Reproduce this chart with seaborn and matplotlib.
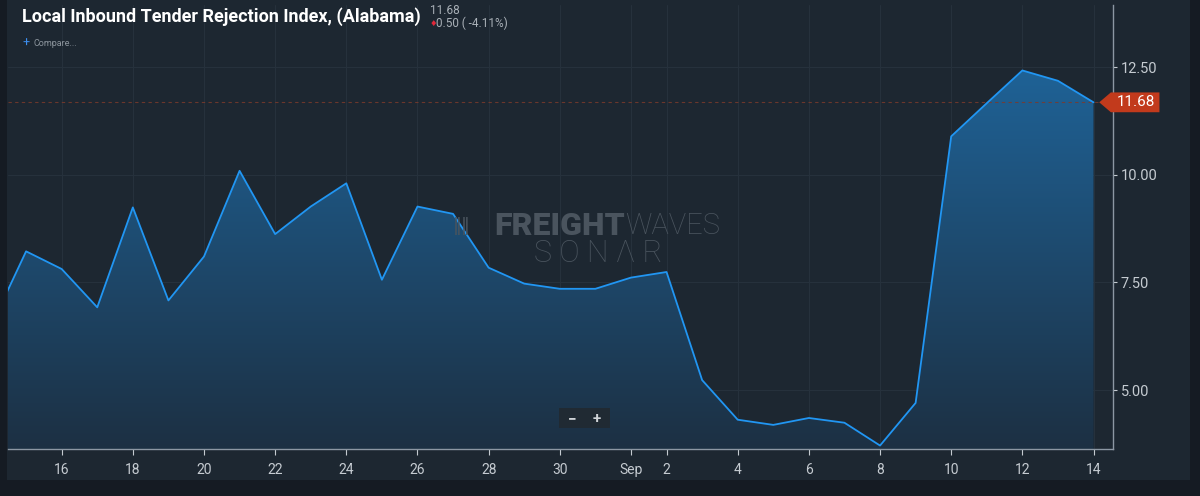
import numpy as np
import pandas as pd
import matplotlib
matplotlib.use("Agg")
import matplotlib.pyplot as plt
import matplotlib.dates as mdates
from matplotlib.colors import LinearSegmentedColormap
from matplotlib.patches import Polygon, Rectangle
import seaborn as sns

# data
dates = pd.date_range("2019-08-14", "2019-09-14", freq="D")
values = [6.46, 8.22, 7.81, 6.92, 9.24, 7.08, 8.10, 10.09, 8.62, 9.26,
          9.80, 7.56, 9.26, 9.09, 7.84, 7.47, 7.35, 7.35, 7.61, 7.74,
          5.23, 4.31, 4.19, 4.35, 4.24, 3.71, 4.70, 10.89, 11.66, 12.42,
          12.18, 11.68]
last_value = 11.68
change_txt = "0.50 ( -4.11%)"
title = "Local Inbound Tender Rejection Index, (Alabama)"
tick_dates = (list(pd.date_range("2019-08-16", "2019-08-30", freq="2D"))
              + [pd.Timestamp("2019-09-01")]
              + list(pd.date_range("2019-09-02", "2019-09-14", freq="2D")))
tick_labels = [("Sep" if d.day == 1 else str(d.day)) for d in tick_dates]
ytick_vals = [5.0, 7.5, 10.0, 12.5]

df = pd.DataFrame({"date": dates, "value": values})

BG_OUT = "#151b23"
BG = "#1d2731"
GRID = "#26313c"
TXT = "#c5cbd1"
LINE = "#2196f3"
WM = "#4a545e"

sns.set_theme(style="dark")
plt.rcParams["font.family"] = ["Roboto", "DejaVu Sans"]

fig = plt.figure(figsize=(12, 4.96), dpi=100, facecolor=BG_OUT)
W, H = 1200, 496
# panel
fig.patches.append(Rectangle((7 / W, 1 - 480 / H), (1190 - 7) / W, 480 / H,
                             transform=fig.transFigure, facecolor=BG,
                             edgecolor="none", zorder=-10))
ax = fig.add_axes([8 / W, 1 - 449 / H, (1112.5 - 8) / W, 444 / H])
ax.set_facecolor(BG)
ax.patch.set_alpha(0)

x0 = pd.Timestamp("2019-08-14") + pd.Timedelta(hours=11.8)
x1 = pd.Timestamp("2019-09-14") + pd.Timedelta(hours=12.8)
ylo, yhi = 3.63, 13.94

# gradient fill under the line
xn = mdates.date2num(df["date"])
fill = ax.fill_between(xn, df["value"], ylo, color="none", lw=0)
cmap = LinearSegmentedColormap.from_list("g", ["#1c3043", "#1f6296"])
grad = np.linspace(0, 1, 256).reshape(-1, 1)
img = ax.imshow(grad, cmap=cmap, aspect="auto", origin="lower",
                extent=[xn[0], xn[-1], ylo, max(values)], zorder=1)
img.set_clip_path(fill.get_paths()[0], transform=ax.transData)

sns.lineplot(data=df, x="date", y="value", ax=ax, color=LINE, lw=1.3,
             zorder=3)

ax.set_xlim(x0, x1)
ax.set_ylim(ylo, yhi)
ax.set_xticks(tick_dates)
ax.set_xticklabels(tick_labels)
ax.yaxis.tick_right()
ax.set_yticks(ytick_vals)
ax.set_yticklabels([f"{v:.2f}" for v in ytick_vals])
ax.set_xlabel("")
ax.set_ylabel("")
ax.tick_params(axis="x", colors=TXT, labelsize=10, length=4, width=0.8,
               pad=6, direction="out", bottom=True)
ax.tick_params(axis="y", colors=TXT, labelsize=10.5, length=3, width=0.8,
               pad=3, right=True)
ax.grid(True, color=GRID, lw=0.8)
for s in ["left", "top"]:
    ax.spines[s].set_visible(False)
for s in ["right", "bottom"]:
    ax.spines[s].set_color("#8c97a3")
    ax.spines[s].set_linewidth(1)

# last value marker
ax.axhline(last_value, color="#7a3a2c", lw=0.8, ls=(0, (3, 3)), alpha=0.85,
           zorder=2)
tr = ax.get_yaxis_transform()
hh = 0.23
tag = Polygon([(0.988, last_value), (0.9985, last_value + hh),
               (1.0425, last_value + hh), (1.0425, last_value - hh),
               (0.9985, last_value - hh)], closed=True, transform=tr,
              facecolor="#c23a1c", edgecolor="none", clip_on=False, zorder=5)
ax.add_patch(tag)
ax.text(1.021, last_value, f"{last_value:.2f}", transform=tr, color="white",
        fontsize=11, ha="center", va="center", clip_on=False, zorder=6)

# header texts
fig.text(22 / W, 1 - 17 / H, title, color="white", fontsize=13,
         fontweight="bold", va="center", ha="left")
fig.text(430 / W, 1 - 10 / H, f"{last_value:.2f}", color="#a9b0b7",
         fontsize=8.5, va="center", ha="left")
fig.text(430 / W, 1 - 23 / H, "\u2666", color="#e0283a", fontsize=6,
         va="center", ha="left", family=["DejaVu Sans"])
fig.text(436 / W, 1 - 23 / H, change_txt, color="#a9b0b7", fontsize=8.5,
         va="center", ha="left")
fig.text(22 / W, 1 - 43 / H, "+", color="#3d8ff0", fontsize=9,
         va="center", ha="left")
fig.text(33 / W, 1 - 44 / H, "Compare...", color="#8e979f", fontsize=6.5,
         va="center", ha="left")

# watermark
fig.text(462 / W, 1 - 226 / H, "\u2016\u2016", color=WM, fontsize=13,
         va="center", ha="center", zorder=4, family=["DejaVu Sans"])
fig.text(625 / W, 1 - 226 / H, "FREIGHT", color=WM, fontsize=23,
         fontweight="heavy", va="center", ha="right", zorder=4)
fig.text(625 / W, 1 - 226 / H, "WAVES", color=WM, fontsize=21,
         fontweight="light", va="center", ha="left", zorder=4)
fig.text(598 / W, 1 - 253 / H, "S O N \u039b R", color=WM,
         fontsize=22, fontweight="light", va="center", ha="center",
         zorder=4)

# zoom buttons
fig.patches.append(Rectangle((559 / W, 1 - 428 / H), 51 / W, 20 / H,
                             transform=fig.transFigure, facecolor="#202a33",
                             edgecolor="none", zorder=4))
fig.text(572 / W, 1 - 419 / H, "\u2212", color="#d0d4d8", fontsize=11,
         fontweight="bold", va="center", ha="center", zorder=5)
fig.text(597 / W, 1 - 419 / H, "+", color="#d0d4d8", fontsize=11,
         fontweight="bold", va="center", ha="center", zorder=5)

fig.savefig("out.png", dpi=100, facecolor=BG_OUT)
